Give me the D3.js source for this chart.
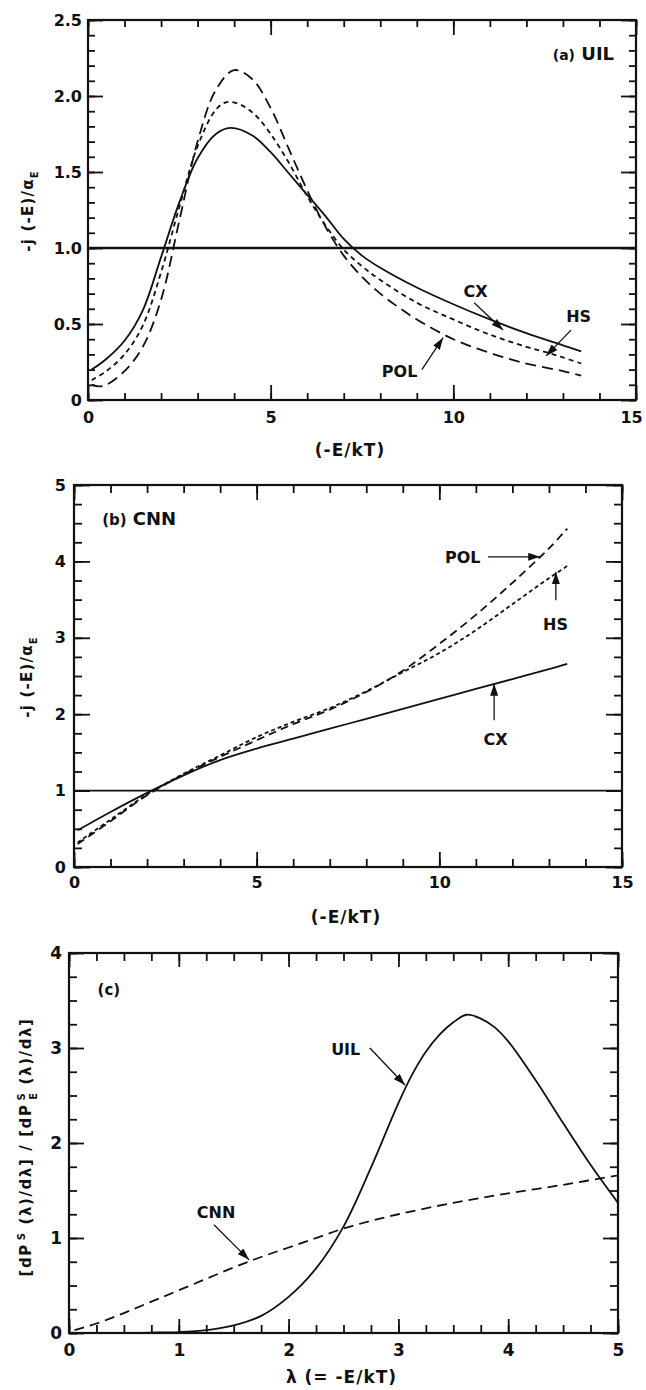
<!DOCTYPE html>
<html>
<head>
<meta charset="utf-8">
<script src="https://cdn.jsdelivr.net/npm/d3@7"></script>
<style>
  body { margin: 0; background: #fff; }
  svg { display: block; }
  text { font-family: "DejaVu Sans", "Liberation Sans", Arial, sans-serif; font-weight: bold; fill: #111; }
</style>
</head>
<body>
<svg id="fig" width="646" height="1390"></svg>
<script>
// ---------- Panel (a): UIL potential, -j(-E)/alpha_E vs -E/kT ----------
const aX   = [0.1, 0.5, 1.0, 1.5, 2.0, 2.5, 3.0, 3.5, 3.9, 4.5, 5.0, 5.5, 6.0, 6.5, 7.0, 7.5, 8.0, 9.0, 10.0, 11.0, 12.0, 13.0, 13.5];
const aCX  = [0.20, 0.27, 0.39, 0.59, 0.94, 1.30, 1.59, 1.75, 1.79, 1.74, 1.63, 1.49, 1.35, 1.21, 1.06, 0.95, 0.87, 0.74, 0.63, 0.53, 0.44, 0.36, 0.32];
const aHSx = [0.1, 0.5, 1.0, 1.5, 2.0, 2.5, 3.0, 3.5, 3.8, 4.2, 4.6, 5.0, 5.5, 6.0, 6.5, 7.0, 7.5, 8.0, 9.0, 10.0, 11.0, 12.0, 12.6, 13.0, 13.5];
const aHS  = [0.13, 0.19, 0.30, 0.49, 0.84, 1.27, 1.67, 1.91, 1.96, 1.94, 1.87, 1.75, 1.56, 1.34, 1.15, 0.99, 0.88, 0.79, 0.64, 0.53, 0.43, 0.35, 0.31, 0.28, 0.24];
const aPOLx = [0.1, 0.3, 0.5, 1.0, 1.5, 2.0, 2.5, 3.0, 3.5, 4.0, 4.5, 5.0, 5.5, 6.0, 6.5, 7.0, 7.5, 8.0, 8.5, 9.0, 10.0, 11.0, 12.0, 13.0, 13.5];
const aPOL = [0.10, 0.09, 0.10, 0.19, 0.35, 0.66, 1.18, 1.70, 2.04, 2.17, 2.11, 1.92, 1.65, 1.38, 1.14, 0.95, 0.81, 0.70, 0.61, 0.53, 0.40, 0.31, 0.24, 0.19, 0.16];

// ---------- Panel (b): CNN potential ----------
const bX   = [0.1, 1, 2, 3, 4, 5, 6, 7, 8, 9, 10, 11, 12, 13, 13.5];
const bCX  = [0.48, 0.72, 0.97, 1.20, 1.40, 1.55, 1.68, 1.81, 1.94, 2.07, 2.20, 2.33, 2.46, 2.59, 2.66];
const bHS  = [0.32, 0.62, 0.95, 1.22, 1.46, 1.70, 1.90, 2.08, 2.30, 2.55, 2.80, 3.10, 3.44, 3.78, 3.94];
const bPOL = [0.30, 0.60, 0.94, 1.21, 1.44, 1.66, 1.87, 2.06, 2.29, 2.57, 2.92, 3.30, 3.72, 4.17, 4.43];

// ---------- Panel (c): ratio of spectra vs lambda ----------
const cUILx = [0.5, 0.75, 1.0, 1.25, 1.5, 1.75, 2.0, 2.25, 2.5, 2.75, 3.0, 3.125, 3.25, 3.375, 3.5, 3.62, 3.75, 3.875, 4.0, 4.25, 4.5, 4.75, 5.0];
const cUIL  = [0.0, 0.004, 0.01, 0.03, 0.08, 0.18, 0.38, 0.68, 1.12, 1.74, 2.42, 2.72, 2.96, 3.14, 3.27, 3.35, 3.31, 3.22, 3.07, 2.66, 2.21, 1.77, 1.37];
const cCNNx = [0.05, 0.25, 0.5, 0.75, 1.0, 1.25, 1.5, 1.75, 2.0, 2.25, 2.5, 2.75, 3.0, 3.5, 4.0, 4.5, 5.0];
const cCNN  = [0.03, 0.10, 0.21, 0.33, 0.45, 0.57, 0.69, 0.80, 0.90, 1.00, 1.10, 1.18, 1.25, 1.37, 1.47, 1.56, 1.66];

// ---------- Tick labels ----------
const aXTicks = [0, 5, 10, 15];
const aYTicks = [0, 0.5, 1.0, 1.5, 2.0, 2.5];
const aYLabels = ["0", "0.5", "1.0", "1.5", "2.0", "2.5"];
const bXTicks = [0, 5, 10, 15];
const bYTicks = [0, 1, 2, 3, 4, 5];
const cXTicks = [0, 1, 2, 3, 4, 5];
const cYTicks = [0, 1, 2, 3, 4];

const svg = d3.select("#fig");

// arrowhead marker
svg.append("defs").append("marker")
  .attr("id", "head")
  .attr("viewBox", "0 0 12 8")
  .attr("refX", 12).attr("refY", 4)
  .attr("markerWidth", 12).attr("markerHeight", 8)
  .attr("markerUnits", "userSpaceOnUse")
  .attr("orient", "auto")
  .append("path").attr("d", "M0,0 L12,4 L0,8 Z").attr("fill", "#111");

const zip = (xs, ys) => xs.map((x, i) => [x, ys[i]]);
const rng = (a, b, s) => d3.range(Math.round((b - a) / s) + 1).map(i => +(a + i * s).toFixed(4));

function drawPanel(p) {
  const x = d3.scaleLinear().domain(p.xDom).range([p.left, p.right]);
  const y = d3.scaleLinear().domain(p.yDom).range([p.bottom, p.top]);
  const g = svg.append("g");

  // inward ticks on all four sides, minor then major
  const tickSets = [
    { ax: d3.axisBottom(x), pos: `translate(0,${p.bottom})`, vals: p.xMinor, len: p.minorLen },
    { ax: d3.axisBottom(x), pos: `translate(0,${p.bottom})`, vals: p.xMajor, len: p.xMajorLen },
    { ax: d3.axisTop(x), pos: `translate(0,${p.top})`, vals: p.xMinor, len: p.minorLen },
    { ax: d3.axisTop(x), pos: `translate(0,${p.top})`, vals: p.xMajor, len: p.xMajorLen },
    { ax: d3.axisLeft(y), pos: `translate(${p.left},0)`, vals: p.yMinor, len: p.minorLen },
    { ax: d3.axisLeft(y), pos: `translate(${p.left},0)`, vals: p.yMajor, len: p.yMajorLen },
    { ax: d3.axisRight(y), pos: `translate(${p.right},0)`, vals: p.yMinor, len: p.minorLen },
    { ax: d3.axisRight(y), pos: `translate(${p.right},0)`, vals: p.yMajor, len: p.yMajorLen }
  ];
  tickSets.forEach(t => {
    const a = g.append("g").attr("transform", t.pos)
      .call(t.ax.tickValues(t.vals).tickSize(-t.len).tickFormat(""));
    a.select(".domain").remove();
    a.selectAll("line").attr("stroke", "#111").attr("stroke-width", 1.8);
  });

  // tick labels
  const xl = g.append("g").attr("transform", `translate(0,${p.bottom})`)
    .call(d3.axisBottom(x).tickValues(p.xLabels).tickSize(0).tickPadding(p.xPad)
      .tickFormat(d => String(d)));
  xl.select(".domain").remove();
  xl.selectAll("text").attr("font-size", p.tickFont).attr("fill", "#111").attr("font-family", null);
  // keep the last label inside the page edge
  if (p.lastXLabelDx) xl.selectAll("text").filter((d, i, n) => i === n.length - 1).attr("dx", p.lastXLabelDx);

  const yl = g.append("g").attr("transform", `translate(${p.left},0)`)
    .call(d3.axisLeft(y).tickValues(p.yLabels).tickSize(0).tickPadding(p.yPad)
      .tickFormat((d, i) => p.yLabelText ? p.yLabelText[i] : String(d)));
  yl.select(".domain").remove();
  yl.selectAll("text").attr("font-size", p.tickFont).attr("fill", "#111").attr("font-family", null);

  // reference line at unity
  if (p.unity) {
    g.append("line")
      .attr("x1", p.left).attr("x2", p.right)
      .attr("y1", y(1)).attr("y2", y(1))
      .attr("stroke", "#111").attr("stroke-width", p.unityWidth);
  }

  // curves
  const line = d3.line().x(d => x(d[0])).y(d => y(d[1])).curve(d3.curveCatmullRom.alpha(0.5));
  p.series.forEach(s => {
    g.append("path").datum(zip(s.x, s.y))
      .attr("d", line).attr("fill", "none")
      .attr("stroke", "#111").attr("stroke-width", s.w || 1.8)
      .attr("stroke-dasharray", s.dash || null);
  });

  // frame
  g.append("rect")
    .attr("x", p.left).attr("y", p.top)
    .attr("width", p.right - p.left).attr("height", p.bottom - p.top)
    .attr("fill", "none").attr("stroke", "#111").attr("stroke-width", 2.2);

  // curve annotations with arrows
  p.notes.forEach(n => {
    g.append("text").attr("x", x(n.tx)).attr("y", y(n.ty))
      .attr("text-anchor", "middle").attr("font-size", 16).text(n.label);
    g.append("line")
      .attr("x1", x(n.from[0])).attr("y1", y(n.from[1]))
      .attr("x2", x(n.to[0])).attr("y2", y(n.to[1]))
      .attr("stroke", "#111").attr("stroke-width", 1.3)
      .attr("marker-end", "url(#head)");
  });

  // panel tag
  const tag = g.append("text").attr("x", x(p.tag.x)).attr("y", y(p.tag.y))
    .attr("text-anchor", p.tag.anchor);
  tag.append("tspan").attr("font-size", p.tag.small).text(p.tag.a);
  if (p.tag.b) tag.append("tspan").attr("font-size", p.tag.big).text(" " + p.tag.b);

  // x axis title
  g.append("text").attr("x", (p.left + p.right) / 2 + p.xTitleShift).attr("y", p.bottom + p.xTitleDy)
    .attr("text-anchor", "middle").attr("font-size", 17)
    .style("letter-spacing", "1px").text(p.xTitle);

  // y axis title (rotated)
  const yt = g.append("text")
    .attr("transform", `translate(${p.yTitleX},${p.yTitleY}) rotate(-90)`)
    .attr("text-anchor", "middle").attr("font-size", p.yTitleFont)
    .style("letter-spacing", p.yTitleSpacing);
  p.yTitle.forEach(t => {
    const ts = yt.append("tspan").text(t.s);
    if (t.fs) ts.attr("font-size", t.fs);
    if (t.dy) ts.attr("dy", t.dy);
    if (t.dx) ts.attr("dx", t.dx);
  });
}

// Panel (a)
drawPanel({
  left: 88, right: 636, top: 20, bottom: 400,
  xDom: [0, 15], yDom: [0, 2.5],
  xMinor: rng(0, 15, 1), xMajor: aXTicks, yMinor: rng(0, 2.5, 0.1), yMajor: aYTicks,
  minorLen: 7, xMajorLen: 15, yMajorLen: 15,
  xLabels: aXTicks, yLabels: aYTicks, yLabelText: aYLabels,
  tickFont: 16, xPad: 12, yPad: 6, lastXLabelDx: -5,
  unity: true, unityWidth: 2.6,
  series: [
    { x: aX, y: aCX },
    { x: aHSx, y: aHS, dash: "5,4" },
    { x: aPOLx, y: aPOL, dash: "11,6" }
  ],
  notes: [
    { label: "CX", tx: 10.61, ty: 0.68, from: [10.57, 0.64], to: [11.36, 0.46] },
    { label: "HS", tx: 13.43, ty: 0.51, from: [13.22, 0.46], to: [12.54, 0.29] },
    { label: "POL", tx: 8.53, ty: 0.15, from: [9.14, 0.20], to: [9.72, 0.41] }
  ],
  tag: { x: 14.4, y: 2.24, anchor: "end", a: "(a)", b: "UIL", small: 14, big: 18 },
  xTitle: "(-E/kT)", xTitleShift: -12, xTitleDy: 56,
  yTitleX: 33, yTitleY: 211, yTitleFont: 15, yTitleSpacing: "1.2px",
  yTitle: [{ s: "-j (-E)/α" }, { s: "E", fs: 10, dy: 5 }]
});

// Panel (b)
drawPanel({
  left: 74, right: 622, top: 485, bottom: 867,
  xDom: [0, 15], yDom: [0, 5],
  xMinor: rng(0, 15, 1), xMajor: bXTicks, yMinor: rng(0, 5, 0.25), yMajor: bYTicks,
  minorLen: 8, xMajorLen: 15, yMajorLen: 16,
  xLabels: bXTicks, yLabels: bYTicks,
  tickFont: 16, xPad: 10, yPad: 8,
  unity: true, unityWidth: 1.6,
  series: [
    { x: bX, y: bCX },
    { x: bX, y: bHS, dash: "4,3" },
    { x: bX, y: bPOL, dash: "8,5" }
  ],
  notes: [
    { label: "POL", tx: 10.64, ty: 3.98, from: [11.33, 4.06], to: [12.76, 4.06] },
    { label: "HS", tx: 13.18, ty: 3.10, from: [13.19, 3.49], to: [13.19, 3.86] },
    { label: "CX", tx: 11.54, ty: 1.60, from: [11.5, 1.92], to: [11.5, 2.40] }
  ],
  tag: { x: 0.77, y: 4.47, anchor: "start", a: "(b)", b: "CNN", small: 15, big: 18 },
  xTitle: "(-E/kT)", xTitleShift: -2, xTitleDy: 56,
  yTitleX: 32, yTitleY: 677, yTitleFont: 15, yTitleSpacing: "1.2px",
  yTitle: [{ s: "-j (-E)/α" }, { s: "E", fs: 10, dy: 5 }]
});

// Panel (c)
drawPanel({
  left: 69, right: 618, top: 953, bottom: 1333,
  xDom: [0, 5], yDom: [0, 4],
  xMinor: rng(0, 5, 0.25), xMajor: cXTicks, yMinor: rng(0, 4, 0.25), yMajor: cYTicks,
  minorLen: 8, xMajorLen: 14, yMajorLen: 15,
  xLabels: cXTicks, yLabels: cYTicks,
  tickFont: 17, xPad: 11, yPad: 7,
  unity: false,
  series: [
    { x: cUILx, y: cUIL },
    { x: cCNNx, y: cCNN, dash: "10,6" }
  ],
  notes: [
    { label: "UIL", tx: 2.52, ty: 2.93, from: [2.74, 3.0], to: [3.06, 2.61] },
    { label: "CNN", tx: 1.34, ty: 1.21, from: [1.32, 1.14], to: [1.64, 0.77] }
  ],
  tag: { x: 0.26, y: 3.56, anchor: "start", a: "(c)", small: 15 },
  xTitle: "λ (= -E/kT)", xTitleShift: -2, xTitleDy: 50,
  yTitleX: 31, yTitleY: 1147, yTitleFont: 15, yTitleSpacing: "1.6px",
  yTitle: [
    { s: "[dP" }, { s: "S", fs: 10, dy: -6, dx: 3 }, { s: " (λ)/dλ] / [dP", dy: 6 },
    { s: "S", fs: 10, dy: -6, dx: 3 }, { s: "E", fs: 10, dy: 12, dx: -8 }, { s: " (λ)/dλ]", dy: -6 }
  ]
});
</script>
</body>
</html>
